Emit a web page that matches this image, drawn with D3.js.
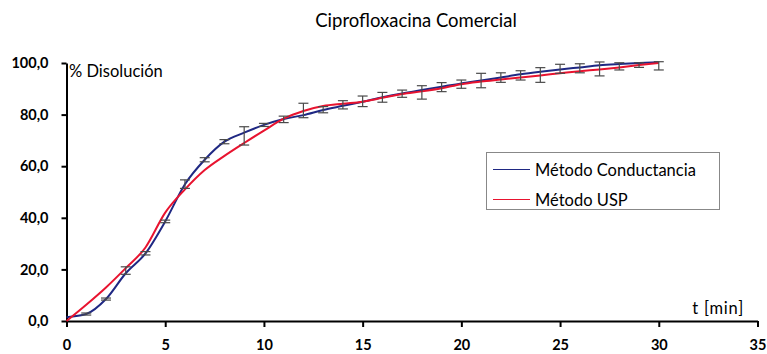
<!DOCTYPE html>
<html>
<head>
<meta charset="utf-8">
<script src="https://cdn.jsdelivr.net/npm/d3@7"></script>
<style>
  body { margin: 0; background: #fff; }
  svg { display: block; font-family: Lato, "Open Sans", sans-serif; }
</style>
</head>
<body>
<div id="chart"></div>
<script>
// chart data
var minutes = d3.range(0, 31);
var conductancia = [1.5, 2.7, 8.5, 18.5, 26.2, 38.6, 53.0, 62.5, 69.5, 73.0,
                    76.0, 78.3, 79.8, 81.8, 83.4, 85.0, 86.7, 88.2, 89.5, 90.8,
                    92.1, 93.2, 94.4, 95.6, 96.6, 97.5, 98.3, 99.1, 99.6, 100.0, 100.3];
var usp = [0.0, 6.3, 13.0, 20.5, 28.5, 42.0, 51.0, 58.5, 64.0, 69.0,
           73.8, 78.4, 81.4, 83.3, 84.2, 85.0, 86.5, 88.0, 89.0, 90.2,
           91.8, 92.8, 93.6, 94.4, 95.2, 96.0, 96.8, 97.5, 98.3, 99.2, 100.0];
// error bar ends, conductancia method (t = 1..30)
var errTimes = d3.range(1, 31);
var errHigh = [3.1, 8.9, 21.0, 26.9, 39.1, 54.7, 63.3, 70.3, 75.3, 76.6,
               79.4, 84.4, 83.1, 85.4, 87.2, 88.6, 89.5, 91.2, 92.4, 93.4,
               96.0, 96.2, 97.0, 98.2, 99.5, 99.7, 100.4, 100.1, 100.1, 100.5];
var errLow = [2.3, 8.1, 18.1, 25.6, 38.1, 51.4, 61.7, 68.7, 68.2, 75.4,
              76.9, 78.8, 80.7, 82.2, 83.1, 84.8, 86.7, 86.0, 88.9, 90.2,
              90.4, 92.5, 93.4, 92.5, 96.0, 96.2, 95.0, 97.3, 98.3, 97.3];
var xTicks = [0, 5, 10, 15, 20, 25, 30, 35];
var yTicks = [0, 20, 40, 60, 80, 100];
var seriesNames = ["Método Conductancia", "Método USP"];
var seriesColors = ["#1f2883", "#e8132f"];

var svgWidth = 767;
var svgHeight = 354;

var svg = d3.select("#chart")
    .append("svg")
    .attr("width", svgWidth)
    .attr("height", svgHeight);

var x = d3.scaleLinear().domain([0, 35]).range([66.5, 757.5]);
var y = d3.scaleLinear().domain([0, 100]).range([321, 63]);

// title
svg.append("text")
    .attr("x", 416)
    .attr("y", 27)
    .attr("text-anchor", "middle")
    .style("font-size", "18.5px")
    .text("Ciprofloxacina Comercial");

// axes
var comma = function(d) { return d3.format(".1f")(d).replace(".", ","); };

var xAxis = svg.append("g")
    .attr("transform", `translate(0, ${y(0)})`)
    .call(d3.axisBottom(x).tickValues(xTicks).tickSize(6).tickPadding(13).tickSizeOuter(0));

var yAxis = svg.append("g")
    .attr("transform", `translate(${x(0)}, 0)`)
    .call(d3.axisLeft(y).tickValues(yTicks).tickSize(5).tickPadding(13).tickFormat(comma).tickSizeOuter(0));

[xAxis, yAxis].forEach(function(ax) {
    ax.select(".domain").attr("stroke", "#000").attr("stroke-width", 2);
    ax.selectAll(".tick line").attr("stroke", "#000").attr("stroke-width", 2);
    ax.selectAll(".tick text")
        .attr("fill", "#000")
        .style("font-family", "Lato, sans-serif")
        .style("font-weight", "bold")
        .style("font-size", "14.5px");
});

// axis labels
svg.append("text")
    .attr("x", 69)
    .attr("y", 77)
    .style("font-size", "16.5px")
    .text("% Disolución");

svg.append("text")
    .attr("x", 744)
    .attr("y", 314)
    .attr("text-anchor", "end")
    .style("font-size", "16.5px")
    .style("letter-spacing", "0.8px")
    .text("t [min]");

// lines
var line = d3.line()
    .x(function(d, i) { return x(minutes[i]); })
    .y(function(d) { return y(d); })
    .curve(d3.curveMonotoneX);

svg.append("path")
    .datum(conductancia)
    .attr("d", line)
    .attr("fill", "none")
    .attr("stroke", seriesColors[0])
    .attr("stroke-width", 2);

svg.append("path")
    .datum(usp)
    .attr("d", line)
    .attr("fill", "none")
    .attr("stroke", seriesColors[1])
    .attr("stroke-width", 2);

// error bars
var bars = svg.append("g")
    .attr("stroke", "#4a4a4a")
    .attr("stroke-width", 1.2)
    .selectAll("g")
    .data(errTimes)
    .enter()
    .append("g");

bars.append("line")
    .attr("x1", d => x(d)).attr("x2", d => x(d))
    .attr("y1", (d, i) => y(errHigh[i])).attr("y2", (d, i) => y(errLow[i]));
bars.append("line")
    .attr("x1", d => x(d) - 5).attr("x2", d => x(d) + 5)
    .attr("y1", (d, i) => y(errHigh[i])).attr("y2", (d, i) => y(errHigh[i]));
bars.append("line")
    .attr("x1", d => x(d) - 5).attr("x2", d => x(d) + 5)
    .attr("y1", (d, i) => y(errLow[i])).attr("y2", (d, i) => y(errLow[i]));

// legend
var legend = svg.append("g");
legend.append("rect")
    .attr("x", 486.5)
    .attr("y", 152.5)
    .attr("width", 233)
    .attr("height", 57)
    .attr("fill", "#fff")
    .attr("stroke", "#888")
    .attr("stroke-width", 1);

seriesNames.forEach(function(name, i) {
    var yy = 169.5 + i * 30;
    legend.append("line")
        .attr("x1", 493).attr("x2", 530)
        .attr("y1", yy).attr("y2", yy)
        .attr("stroke", seriesColors[i])
        .attr("stroke-width", 1.2);
    legend.append("text")
        .attr("x", 535)
        .attr("y", yy + 6)
        .style("font-size", "16.5px")
        .text(name);
});
</script>
</body>
</html>
